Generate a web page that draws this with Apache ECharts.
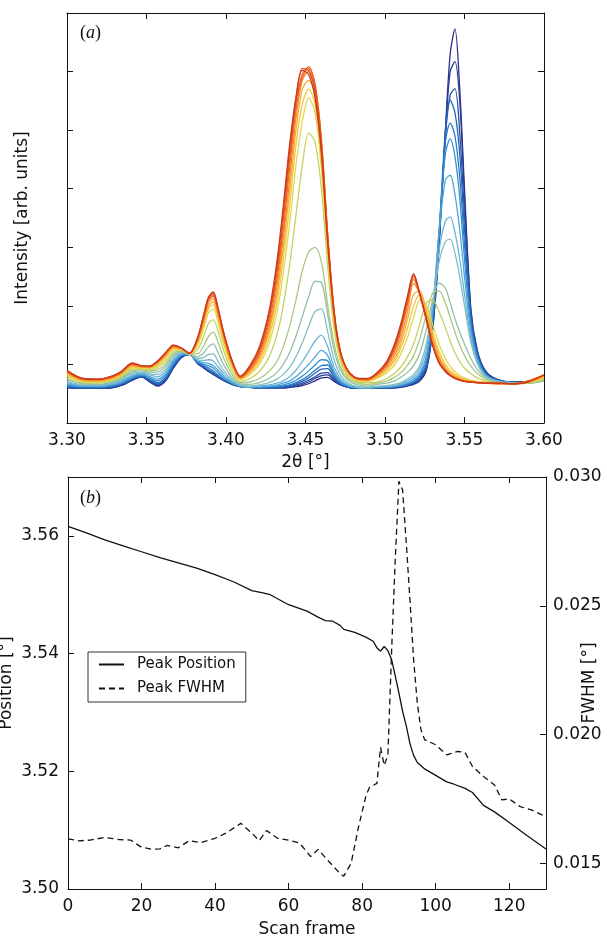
<!DOCTYPE html>
<html>
<head>
<meta charset="utf-8">
<title>peak scan</title>
<script src="https://cdn.jsdelivr.net/npm/echarts@6/dist/echarts.min.js"></script>
<style>
html, body { margin: 0; padding: 0; background: #fff; }
#chart { width: 607px; height: 937px; }
</style>
</head>
<body>
<div id="chart"></div>
<script>
// (a) 2theta grid shared by every scan
var twoTheta = [3.300, 3.310, 3.320, 3.328, 3.334, 3.341, 3.347, 3.352, 3.357, 3.362, 3.367, 3.372, 3.377,
  3.382, 3.386, 3.389, 3.392, 3.395, 3.399, 3.404, 3.409,
  3.415, 3.421, 3.427, 3.432, 3.436, 3.440, 3.444, 3.448, 3.452, 3.456, 3.460, 3.464, 3.468, 3.472, 3.477, 3.483, 3.489,
  3.495, 3.501, 3.506, 3.510, 3.514, 3.518, 3.522, 3.526, 3.530, 3.534, 3.538, 3.541, 3.544, 3.547, 3.550, 3.554, 3.558, 3.563, 3.570, 3.580, 3.590, 3.600];

// intensities, first scan (blue) to last scan (red)
var scan01 = [0.60, 0.59, 0.59, 0.60, 0.64, 0.73, 0.79, 0.70, 0.63, 0.72, 0.94, 1.12, 1.17, 1.02, 0.94, 0.88, 0.83, 0.78, 0.72, 0.66, 0.62, 0.61, 0.60, 0.60, 0.60, 0.60, 0.61, 0.62, 0.64, 0.67, 0.72, 0.77, 0.78, 0.71, 0.65, 0.61, 0.59, 0.59, 0.59, 0.59, 0.60, 0.61, 0.63, 0.66, 0.72, 0.90, 1.60, 3.00, 5.00, 6.30, 6.73, 5.70, 4.00, 1.95, 1.25, 0.90, 0.75, 0.70, 0.70, 0.74];
var scan02 = [0.61, 0.59, 0.59, 0.60, 0.64, 0.73, 0.79, 0.71, 0.64, 0.73, 0.95, 1.12, 1.17, 1.02, 0.94, 0.88, 0.83, 0.78, 0.72, 0.66, 0.62, 0.61, 0.60, 0.60, 0.60, 0.60, 0.61, 0.63, 0.66, 0.70, 0.76, 0.81, 0.82, 0.73, 0.65, 0.61, 0.59, 0.59, 0.59, 0.60, 0.60, 0.62, 0.64, 0.67, 0.74, 0.92, 1.62, 3.05, 4.95, 6.00, 6.17, 5.50, 3.85, 1.90, 1.22, 0.88, 0.75, 0.70, 0.70, 0.74];
var scan03 = [0.61, 0.60, 0.60, 0.61, 0.65, 0.74, 0.79, 0.72, 0.65, 0.74, 0.96, 1.13, 1.17, 1.03, 0.95, 0.89, 0.84, 0.79, 0.73, 0.66, 0.62, 0.61, 0.60, 0.60, 0.60, 0.61, 0.62, 0.65, 0.68, 0.73, 0.79, 0.85, 0.86, 0.75, 0.66, 0.61, 0.59, 0.59, 0.60, 0.60, 0.61, 0.62, 0.64, 0.68, 0.76, 0.95, 1.65, 3.10, 4.90, 5.60, 5.71, 4.95, 3.55, 1.85, 1.20, 0.87, 0.74, 0.70, 0.70, 0.74];
var scan04 = [0.62, 0.60, 0.60, 0.62, 0.66, 0.75, 0.80, 0.73, 0.67, 0.76, 0.98, 1.14, 1.17, 1.03, 0.96, 0.91, 0.86, 0.80, 0.73, 0.67, 0.62, 0.61, 0.60, 0.60, 0.61, 0.62, 0.64, 0.67, 0.71, 0.77, 0.85, 0.92, 0.93, 0.78, 0.67, 0.62, 0.60, 0.59, 0.60, 0.60, 0.61, 0.63, 0.65, 0.69, 0.78, 0.98, 1.70, 3.20, 5.00, 5.51, 5.30, 4.60, 3.30, 1.80, 1.18, 0.86, 0.74, 0.70, 0.70, 0.74];
var scan05 = [0.63, 0.61, 0.61, 0.63, 0.67, 0.76, 0.81, 0.75, 0.69, 0.78, 1.00, 1.15, 1.17, 1.04, 0.98, 0.94, 0.89, 0.82, 0.74, 0.67, 0.62, 0.61, 0.61, 0.61, 0.62, 0.63, 0.65, 0.69, 0.74, 0.81, 0.90, 0.98, 0.99, 0.80, 0.68, 0.62, 0.60, 0.59, 0.60, 0.61, 0.62, 0.63, 0.66, 0.70, 0.80, 1.02, 1.75, 3.20, 4.80, 5.12, 4.90, 4.20, 3.05, 1.72, 1.15, 0.85, 0.73, 0.69, 0.69, 0.73];
var scan06 = [0.65, 0.62, 0.62, 0.64, 0.69, 0.78, 0.82, 0.77, 0.72, 0.81, 1.03, 1.16, 1.17, 1.05, 1.00, 0.98, 0.94, 0.86, 0.76, 0.68, 0.63, 0.61, 0.61, 0.62, 0.63, 0.65, 0.68, 0.73, 0.80, 0.89, 0.99, 1.08, 1.06, 0.84, 0.70, 0.63, 0.60, 0.60, 0.61, 0.61, 0.62, 0.64, 0.67, 0.72, 0.83, 1.08, 1.85, 3.30, 4.60, 4.85, 4.55, 3.85, 2.80, 1.65, 1.12, 0.84, 0.73, 0.69, 0.69, 0.73];
var scan07 = [0.67, 0.63, 0.63, 0.65, 0.70, 0.80, 0.84, 0.79, 0.75, 0.84, 1.06, 1.18, 1.17, 1.06, 1.03, 1.02, 0.98, 0.90, 0.79, 0.69, 0.63, 0.61, 0.62, 0.63, 0.65, 0.68, 0.72, 0.79, 0.89, 1.00, 1.13, 1.24, 1.15, 0.88, 0.72, 0.63, 0.60, 0.60, 0.61, 0.62, 0.63, 0.65, 0.69, 0.75, 0.87, 1.15, 1.95, 3.25, 4.15, 4.23, 3.90, 3.30, 2.50, 1.55, 1.08, 0.82, 0.72, 0.69, 0.69, 0.73];
var scan08 = [0.69, 0.64, 0.64, 0.67, 0.72, 0.82, 0.85, 0.82, 0.79, 0.88, 1.09, 1.19, 1.18, 1.08, 1.07, 1.08, 1.06, 0.96, 0.83, 0.71, 0.64, 0.62, 0.63, 0.65, 0.68, 0.72, 0.79, 0.90, 1.05, 1.22, 1.40, 1.50, 1.30, 0.95, 0.76, 0.65, 0.61, 0.60, 0.62, 0.63, 0.64, 0.67, 0.72, 0.79, 0.93, 1.25, 2.00, 2.95, 3.45, 3.52, 3.25, 2.80, 2.20, 1.45, 1.04, 0.81, 0.72, 0.69, 0.69, 0.73];
var scan09 = [0.71, 0.65, 0.65, 0.68, 0.74, 0.85, 0.87, 0.84, 0.83, 0.92, 1.12, 1.21, 1.18, 1.10, 1.12, 1.17, 1.18, 1.05, 0.88, 0.73, 0.65, 0.63, 0.65, 0.69, 0.75, 0.83, 0.95, 1.13, 1.37, 1.65, 1.90, 1.95, 1.55, 1.08, 0.82, 0.68, 0.62, 0.61, 0.63, 0.64, 0.66, 0.69, 0.75, 0.83, 0.99, 1.35, 2.05, 2.75, 3.10, 3.14, 2.90, 2.50, 2.00, 1.38, 1.02, 0.80, 0.71, 0.68, 0.68, 0.72];
var scan10 = [0.74, 0.67, 0.66, 0.70, 0.76, 0.87, 0.89, 0.87, 0.87, 0.97, 1.16, 1.22, 1.18, 1.13, 1.20, 1.30, 1.35, 1.20, 0.97, 0.77, 0.67, 0.66, 0.69, 0.76, 0.86, 1.00, 1.20, 1.48, 1.82, 2.15, 2.42, 2.40, 1.85, 1.25, 0.90, 0.72, 0.65, 0.63, 0.66, 0.68, 0.72, 0.78, 0.86, 0.98, 1.20, 1.60, 2.10, 2.39, 2.30, 2.05, 1.78, 1.55, 1.35, 1.10, 0.92, 0.78, 0.70, 0.68, 0.68, 0.72];
var scan11 = [0.76, 0.68, 0.68, 0.71, 0.78, 0.90, 0.91, 0.89, 0.91, 1.01, 1.19, 1.23, 1.18, 1.18, 1.32, 1.48, 1.55, 1.38, 1.08, 0.82, 0.69, 0.70, 0.76, 0.88, 1.05, 1.30, 1.65, 2.10, 2.60, 2.92, 3.00, 2.75, 2.00, 1.35, 0.95, 0.75, 0.68, 0.66, 0.68, 0.72, 0.78, 0.86, 0.98, 1.15, 1.45, 1.85, 2.22, 2.25, 2.05, 1.80, 1.55, 1.33, 1.15, 0.97, 0.85, 0.75, 0.69, 0.67, 0.68, 0.73];
var scan12 = [0.79, 0.70, 0.69, 0.73, 0.80, 0.92, 0.92, 0.91, 0.95, 1.06, 1.22, 1.24, 1.18, 1.25, 1.48, 1.70, 1.76, 1.57, 1.20, 0.88, 0.71, 0.76, 0.88, 1.12, 1.50, 2.00, 2.70, 3.55, 4.40, 4.95, 4.80, 4.00, 2.65, 1.60, 1.05, 0.79, 0.70, 0.69, 0.70, 0.76, 0.85, 0.96, 1.12, 1.35, 1.70, 2.05, 2.10, 1.90, 1.62, 1.40, 1.20, 1.05, 0.94, 0.84, 0.77, 0.72, 0.68, 0.67, 0.68, 0.74];
var scan13 = [0.81, 0.71, 0.70, 0.74, 0.82, 0.94, 0.93, 0.93, 0.98, 1.10, 1.25, 1.25, 1.18, 1.32, 1.62, 1.88, 1.95, 1.72, 1.30, 0.94, 0.74, 0.83, 1.00, 1.35, 1.88, 2.55, 3.40, 4.40, 5.15, 5.55, 5.30, 4.35, 2.85, 1.70, 1.10, 0.82, 0.72, 0.71, 0.76, 0.86, 0.99, 1.18, 1.45, 1.80, 2.10, 2.00, 1.68, 1.35, 1.10, 0.97, 0.88, 0.81, 0.77, 0.73, 0.71, 0.69, 0.68, 0.67, 0.69, 0.76];
var scan14 = [0.83, 0.72, 0.71, 0.75, 0.83, 0.96, 0.94, 0.94, 1.00, 1.13, 1.27, 1.26, 1.18, 1.35, 1.68, 1.95, 2.02, 1.78, 1.36, 0.97, 0.75, 0.86, 1.05, 1.45, 2.05, 2.78, 3.70, 4.75, 5.45, 5.70, 5.45, 4.50, 2.95, 1.75, 1.12, 0.84, 0.73, 0.72, 0.78, 0.90, 1.05, 1.28, 1.60, 2.00, 2.20, 1.95, 1.55, 1.22, 1.00, 0.90, 0.83, 0.78, 0.75, 0.72, 0.70, 0.69, 0.68, 0.67, 0.70, 0.78];
var scan15 = [0.85, 0.73, 0.72, 0.76, 0.84, 0.98, 0.95, 0.95, 1.02, 1.15, 1.29, 1.26, 1.18, 1.38, 1.72, 2.00, 2.07, 1.84, 1.40, 0.99, 0.76, 0.88, 1.10, 1.55, 2.20, 2.98, 3.95, 5.00, 5.70, 5.85, 5.60, 4.65, 3.05, 1.80, 1.15, 0.85, 0.74, 0.73, 0.80, 0.93, 1.10, 1.36, 1.75, 2.20, 2.25, 1.90, 1.48, 1.15, 0.95, 0.86, 0.80, 0.76, 0.73, 0.71, 0.70, 0.69, 0.68, 0.67, 0.71, 0.80];
var scan16 = [0.86, 0.74, 0.73, 0.77, 0.85, 0.99, 0.96, 0.96, 1.03, 1.17, 1.30, 1.27, 1.19, 1.40, 1.76, 2.05, 2.12, 1.88, 1.43, 1.01, 0.77, 0.90, 1.14, 1.62, 2.32, 3.15, 4.15, 5.20, 5.85, 6.00, 5.75, 4.80, 3.15, 1.86, 1.18, 0.86, 0.75, 0.74, 0.82, 0.96, 1.16, 1.45, 1.88, 2.38, 2.20, 1.82, 1.40, 1.10, 0.92, 0.84, 0.78, 0.75, 0.72, 0.70, 0.69, 0.68, 0.67, 0.67, 0.72, 0.81];
var scan17 = [0.87, 0.75, 0.74, 0.78, 0.86, 1.00, 0.97, 0.96, 1.04, 1.18, 1.31, 1.27, 1.19, 1.42, 1.79, 2.09, 2.16, 1.91, 1.46, 1.03, 0.78, 0.92, 1.18, 1.70, 2.45, 3.30, 4.35, 5.35, 5.90, 6.05, 5.80, 4.85, 3.20, 1.90, 1.20, 0.87, 0.75, 0.74, 0.83, 0.99, 1.22, 1.55, 2.00, 2.45, 2.18, 1.78, 1.36, 1.06, 0.90, 0.82, 0.77, 0.74, 0.71, 0.70, 0.69, 0.68, 0.67, 0.67, 0.72, 0.82];
var scan18 = [0.88, 0.75, 0.74, 0.79, 0.87, 1.01, 0.97, 0.97, 1.05, 1.19, 1.32, 1.28, 1.19, 1.43, 1.82, 2.12, 2.19, 1.93, 1.48, 1.04, 0.79, 0.94, 1.22, 1.78, 2.55, 3.45, 4.50, 5.45, 5.95, 6.08, 5.75, 4.80, 3.20, 1.92, 1.22, 0.88, 0.76, 0.75, 0.84, 1.01, 1.27, 1.62, 2.07, 2.50, 2.18, 1.75, 1.33, 1.04, 0.89, 0.81, 0.76, 0.73, 0.71, 0.70, 0.69, 0.68, 0.68, 0.67, 0.71, 0.82];
var scan19 = [0.89, 0.76, 0.75, 0.79, 0.87, 1.02, 0.98, 0.97, 1.06, 1.20, 1.33, 1.28, 1.19, 1.44, 1.84, 2.14, 2.22, 1.95, 1.49, 1.05, 0.79, 0.96, 1.26, 1.85, 2.65, 3.60, 4.65, 5.55, 6.05, 6.02, 5.65, 4.70, 3.15, 1.90, 1.22, 0.88, 0.76, 0.75, 0.85, 1.03, 1.31, 1.66, 2.11, 2.53, 2.19, 1.77, 1.32, 1.03, 0.88, 0.81, 0.76, 0.73, 0.71, 0.70, 0.69, 0.68, 0.68, 0.67, 0.70, 0.82];
var scan20 = [0.90, 0.76, 0.75, 0.80, 0.88, 1.02, 0.98, 0.97, 1.06, 1.20, 1.33, 1.28, 1.19, 1.45, 1.85, 2.15, 2.24, 1.96, 1.50, 1.05, 0.80, 0.98, 1.30, 1.90, 2.75, 3.70, 4.75, 5.55, 6.02, 5.95, 5.55, 4.60, 3.05, 1.85, 1.20, 0.88, 0.76, 0.76, 0.86, 1.05, 1.35, 1.70, 2.15, 2.55, 2.20, 1.78, 1.32, 1.02, 0.88, 0.81, 0.76, 0.73, 0.71, 0.70, 0.69, 0.68, 0.68, 0.67, 0.70, 0.82];

var scans = [scan01, scan02, scan03, scan04, scan05, scan06, scan07, scan08, scan09, scan10,
  scan11, scan12, scan13, scan14, scan15, scan16, scan17, scan18, scan19, scan20];
var scanColors = ['#2b2c84', '#283c96', '#2550a8', '#2464b6', '#2a79c4', '#388fd0', '#4da5da', '#67b5d6', '#80bdc2', '#92bfa4',
  '#a8c882', '#c4d25f', '#e2d84a', '#f2c63d', '#f7ab34', '#f68f2c', '#f17527', '#e85e22', '#dc4a1f', '#cd3a1d'];

// (b) peak fit results
var positionFrames = [0, 5, 10, 15, 20, 25, 30, 35, 40, 45, 50, 53, 55, 60, 65, 68, 70, 72, 74, 75, 78, 81, 83, 84, 85, 86, 87, 88, 89, 90, 91, 92, 93, 94, 95, 97, 100, 103, 105, 108, 110, 113, 116, 120, 125, 130];
var peakPosition = [3.5616, 3.5605, 3.5593, 3.5583, 3.5573, 3.5563, 3.5554, 3.5545, 3.5534, 3.5522, 3.5507, 3.5503, 3.5500, 3.5483, 3.5472, 3.5462, 3.5456, 3.5455, 3.5448, 3.5441, 3.5436, 3.5428, 3.5421, 3.5410, 3.5404, 3.5412, 3.5405, 3.5390, 3.5362, 3.5333, 3.5302, 3.5277, 3.5247, 3.5227, 3.5215, 3.5204, 3.5193, 3.5182, 3.5178, 3.5171, 3.5164, 3.5142, 3.5131, 3.5113, 3.5090, 3.5068];
var fwhmFrames = [0, 3, 6, 10, 14, 17, 20, 23, 25, 27, 30, 33, 36, 40, 43, 47, 50, 52, 54, 57, 60, 63, 66, 68, 71, 74, 75, 77, 79, 81, 82, 84, 85, 86, 87, 88, 89, 90, 91, 92, 93, 94, 95, 96, 97, 100, 103, 106, 108, 110, 113, 116, 118, 120, 123, 126, 130];
var peakFwhm = [0.01595, 0.01587, 0.01590, 0.01600, 0.01592, 0.01590, 0.01562, 0.01554, 0.01556, 0.01569, 0.01560, 0.01588, 0.01580, 0.01597, 0.01617, 0.01655, 0.01617, 0.01588, 0.01627, 0.01597, 0.01590, 0.01578, 0.01526, 0.01554, 0.01506, 0.01460, 0.01450, 0.01500, 0.01640, 0.01760, 0.01795, 0.01810, 0.01950, 0.01880, 0.01920, 0.02320, 0.02680, 0.02983, 0.02950, 0.02744, 0.02523, 0.02290, 0.02122, 0.02018, 0.01980, 0.01960, 0.01921, 0.01934, 0.01930, 0.01876, 0.01837, 0.01804, 0.01746, 0.01750, 0.01720, 0.01707, 0.01681];

// tick positions
var thetaTicks = [3.30, 3.35, 3.40, 3.45, 3.50, 3.55, 3.60];
var intensityTicks = [1, 2, 3, 4, 5, 6];
var frameTicks = [0, 20, 40, 60, 80, 100, 120];
var positionTicks = [3.50, 3.52, 3.54, 3.56];
var fwhmTicks = [0.015, 0.020, 0.025, 0.030];

function zip(xs, ys) {
  var out = [];
  for (var i = 0; i < xs.length; i++) out.push([xs[i], ys[i]]);
  return out;
}

var font = 'DejaVu Sans';
var ink = '#111';
var line = { show: true, onZero: false, lineStyle: { color: ink, width: 1 } };
var nameStyle = { fontFamily: font, fontSize: 17, color: ink };

function tickAxis(grid, pos, min, max, ticks, labels, fmt) {
  return {
    type: 'value', gridIndex: grid, position: pos, min: min, max: max,
    nameMoveOverlap: false,
    axisLine: line,
    axisTick: { show: true, inside: true, length: 6, customValues: ticks, lineStyle: { color: ink, width: 1 } },
    axisLabel: labels ? { show: true, customValues: ticks, formatter: fmt, fontFamily: font, fontSize: 17, color: ink, margin: 9 } : { show: false },
    splitLine: { show: false }
  };
}

var series = [];
for (var i = 0; i < scans.length; i++) {
  series.push({
    type: 'line', xAxisIndex: 0, yAxisIndex: 0,
    data: zip(twoTheta, scans[i]),
    showSymbol: false, symbol: 'none', smooth: 0.3, silent: true,
    lineStyle: { color: scanColors[i], width: 1.3 }
  });
}
series.push({
  name: 'Peak Position', type: 'line', xAxisIndex: 2, yAxisIndex: 2,
  data: zip(positionFrames, peakPosition),
  symbol: 'none', color: ink,
  lineStyle: { color: ink, width: 1.3 }
});
series.push({
  name: 'Peak FWHM', type: 'line', xAxisIndex: 2, yAxisIndex: 3,
  data: zip(fwhmFrames, peakFwhm),
  symbol: 'none', color: ink,
  lineStyle: { color: ink, width: 1.3, type: [6, 4] }
});

var xA = tickAxis(0, 'bottom', 3.30, 3.60, thetaTicks, true, function (v) { return v.toFixed(2); });
xA.name = '2θ [°]'; xA.nameLocation = 'middle'; xA.nameGap = 31; xA.nameTextStyle = nameStyle;
var yA = tickAxis(0, 'left', 0, 7, intensityTicks, false);
yA.name = 'Intensity [arb. units]'; yA.nameLocation = 'middle'; yA.nameGap = 36; yA.nameTextStyle = nameStyle;

var xB = tickAxis(1, 'bottom', 0, 130, frameTicks, true, function (v) { return String(v); });
xB.name = 'Scan frame'; xB.nameLocation = 'middle'; xB.nameGap = 32; xB.nameTextStyle = nameStyle;
var yB = tickAxis(1, 'left', 3.50, 3.57, positionTicks, true, function (v) { return v.toFixed(2); });
yB.name = 'Position [°]'; yB.nameLocation = 'middle'; yB.nameGap = 53; yB.nameTextStyle = nameStyle;
var yB2 = tickAxis(1, 'right', 0.014, 0.030, fwhmTicks, true, function (v) { return v.toFixed(3); });
yB2.name = 'FWHM [°]'; yB2.nameLocation = 'middle'; yB2.nameGap = 35; yB2.nameTextStyle = nameStyle;
yB2.axisLabel.margin = 7;

var option = {
  backgroundColor: '#fff',
  animation: false,
  grid: [
    { left: 67, top: 13, width: 477, height: 410, containLabel: false, outerBoundsMode: 'none' },
    { left: 68, top: 477, width: 478, height: 412, containLabel: false, outerBoundsMode: 'none' }
  ],
  xAxis: [xA, tickAxis(0, 'top', 3.30, 3.60, thetaTicks, false), xB, tickAxis(1, 'top', 0, 130, frameTicks, false)],
  yAxis: [yA, tickAxis(0, 'right', 0, 7, intensityTicks, false), yB, yB2],
  legend: {
    data: ['Peak Position', 'Peak FWHM'],
    orient: 'vertical', left: 88, top: 652,
    padding: [5, 10, 6, 10], itemGap: 9, itemWidth: 25, itemHeight: 14,
    backgroundColor: '#fff', borderColor: '#333', borderWidth: 1, borderRadius: 0,
    itemStyle: { opacity: 0, borderWidth: 0 },
    textStyle: { fontFamily: font, fontSize: 15, color: ink, padding: [0, 0, 0, 8] }
  },
  graphic: [
    { type: 'text', left: 80, top: 24, style: { text: '{p|(}{i|a}{p|)}', rich: { p: { fontFamily: 'Liberation Serif', fontSize: 18, fill: ink }, i: { fontFamily: 'Liberation Serif', fontStyle: 'italic', fontSize: 18, fill: ink } } } },
    { type: 'text', left: 80, top: 489, style: { text: '{p|(}{i|b}{p|)}', rich: { p: { fontFamily: 'Liberation Serif', fontSize: 18, fill: ink }, i: { fontFamily: 'Liberation Serif', fontStyle: 'italic', fontSize: 18, fill: ink } } } }
  ],
  series: series
};

var chart = echarts.init(document.getElementById('chart'), null, { renderer: 'canvas' });
chart.setOption(option);
</script>
</body>
</html>
